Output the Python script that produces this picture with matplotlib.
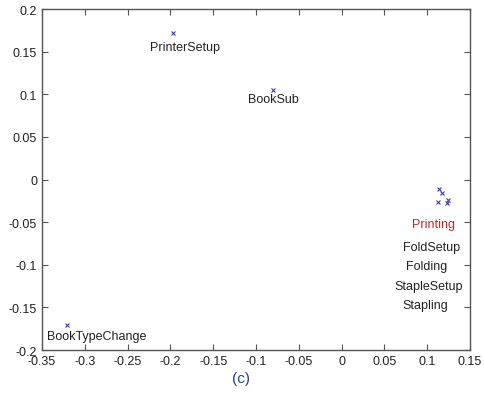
import matplotlib
matplotlib.use("Agg")
import matplotlib.pyplot as plt
import numpy as np

# point positions (scaled coordinates)
pt_x = [-0.197, -0.080, -0.321, 0.114, 0.117, 0.113, 0.124, 0.123]
pt_y = [0.172, 0.105, -0.171, -0.011, -0.016, -0.026, -0.024, -0.028]

# labels and where they are written
names = ["PrinterSetup", "BookSub", "BookTypeChange",
         "Printing", "FoldSetup", "Folding", "StapleSetup", "Stapling"]
lab_x = [-0.183, -0.080, -0.286, 0.107, 0.105, 0.099, 0.102, 0.098]
lab_y = [0.155, 0.094, -0.184, -0.052, -0.079, -0.101, -0.125, -0.147]
lab_c = ["#222222", "#222222", "#222222", "#c0282a",
         "#222222", "#222222", "#222222", "#222222"]

xticks = [-0.35, -0.3, -0.25, -0.2, -0.15, -0.1, -0.05, 0, 0.05, 0.1, 0.15]
yticks = [-0.2, -0.15, -0.1, -0.05, 0, 0.05, 0.1, 0.15, 0.2]

plt.rcParams['font.family'] = ['Liberation Sans', 'DejaVu Sans']

fig = plt.figure(figsize=(4.84, 4.10), dpi=100)
ax = fig.add_axes([0.0868, 0.1439, 0.884, 0.8317])

ax.plot(pt_x, pt_y, linestyle="none", marker="x", markersize=3.5,
        markeredgewidth=0.8, color="#3b3bb0")
for n, x, y, c in zip(names, lab_x, lab_y, lab_c):
    ax.text(x, y, n, color=c, fontsize=9, ha="center", va="center")

ax.set_xlim(-0.35, 0.15)
ax.set_ylim(-0.2, 0.2)
ax.set_xticks(xticks)
ax.set_yticks(yticks)
ax.set_xticklabels(["%g" % t for t in xticks])
ax.set_yticklabels(["%g" % t for t in yticks])
ax.tick_params(direction="in", length=4, width=0.8, colors="#555555",
               labelcolor="#222222", labelsize=9, top=True, right=True)
for s in ax.spines.values():
    s.set_color("#555555")
    s.set_linewidth(1.0)

fig.text(0.498, 0.075, "(c)", color="#2a3f8f", fontsize=11,
         ha="center", va="center")

fig.savefig("out.png", dpi=100)
